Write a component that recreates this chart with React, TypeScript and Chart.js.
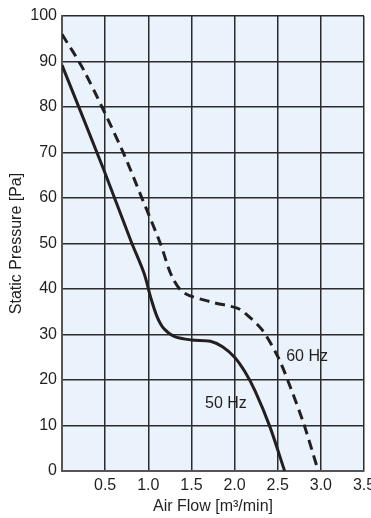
import React, { useEffect, useRef } from "react";
import { Chart, registerables } from "chart.js";

Chart.register(...registerables);

// Data
const hz50X = [0, 0.484, 0.8, 0.95, 1.03, 1.1, 1.18, 1.3, 1.5, 1.72, 1.86, 2.0, 2.12, 2.24, 2.41, 2.58];
const hz50Y = [89.2, 66.2, 50.5, 43.5, 38, 34, 31.3, 29.6, 28.8, 28.5, 27.3, 25, 21.8, 17.5, 9.7, 0];

const hz60X = [0, 0.252, 0.697, 0.928, 1.14, 1.275, 1.41, 1.72, 2.03, 2.12, 2.32, 2.51, 2.645, 2.8, 2.97];
const hz60Y = [96, 88.1, 70.5, 59.9, 50, 42.7, 39.2, 37.2, 35.8, 34.7, 31, 24.8, 18.5, 10.5, 0];

const seriesLabels = ["50 Hz", "60 Hz"];
const xTitle = "Air Flow [m³/min]";
const yTitle = "Static Pressure [Pa]";

const FONT = "'Liberation Sans', Arial, sans-serif";
const INK = "#231f20";
const GRID = "#2b2b2b";

const zeroPad = (scale: any) => {
  scale.paddingLeft = 0;
  scale.paddingRight = 0;
  scale.paddingTop = 0;
  scale.paddingBottom = 0;
};

export default function App() {
  const ref = useRef<HTMLCanvasElement | null>(null);

  useEffect(() => {
    document.body.style.margin = "0";
    const canvas = ref.current;
    if (!canvas) return;

    const bgPlugin = {
      id: "plotBg",
      beforeDraw(chart: any) {
        const { ctx, chartArea } = chart;
        ctx.save();
        ctx.fillStyle = "#eaf3fb";
        ctx.fillRect(chartArea.left, chartArea.top, chartArea.right - chartArea.left, chartArea.bottom - chartArea.top);
        ctx.restore();
      },
    };

    const labelPlugin = {
      id: "seriesLabels",
      afterDatasetsDraw(chart: any) {
        const { ctx, scales } = chart;
        const items = [
          { text: seriesLabels[1], x: 2.84, y: 25.1 },
          { text: seriesLabels[0], x: 1.9, y: 14.9 },
        ];
        ctx.save();
        ctx.fillStyle = INK;
        ctx.font = `16px ${FONT}`;
        ctx.textAlign = "center";
        ctx.textBaseline = "middle";
        items.forEach((it) => {
          ctx.fillText(it.text, scales.x.getPixelForValue(it.x), scales.y.getPixelForValue(it.y));
        });
        ctx.restore();
      },
    };

    const chart = new Chart(canvas, {
      type: "line",
      data: {
        datasets: [
          {
            label: seriesLabels[0],
            data: hz50X.map((x, i) => ({ x, y: hz50Y[i] })),
            borderColor: INK,
            borderWidth: 3,
            pointRadius: 0,
            tension: 0.3,
            fill: false,
          },
          {
            label: seriesLabels[1],
            data: hz60X.map((x, i) => ({ x, y: hz60Y[i] })),
            borderColor: INK,
            borderWidth: 3,
            borderDash: [10, 6],
            pointRadius: 0,
            tension: 0.3,
            fill: false,
          },
        ],
      },
      options: {
        animation: false,
        responsive: false,
        maintainAspectRatio: false,
        layout: { padding: { left: 0, top: 16, right: 7, bottom: 0 } },
        plugins: {
          legend: { display: false },
          tooltip: { enabled: false },
        },
        scales: {
          x: {
            type: "linear",
            min: 0,
            max: 3.5,
            ticks: {
              stepSize: 0.5,
              padding: 5,
              color: INK,
              font: { family: FONT, size: 16 },
              maxRotation: 0,
              callback: (v: any) => (Number(v) === 0 ? "" : Number(v).toFixed(1)),
            },
            grid: { color: GRID, lineWidth: 1.5, drawTicks: false },
            border: { color: "#555", width: 2 },
            title: {
              display: true,
              text: xTitle,
              color: INK,
              font: { family: FONT, size: 16 },
              padding: { top: 0, bottom: 2 },
            },
            afterFit: (scale: any) => {
              scale.height = 47;
              zeroPad(scale);
            },
          },
          y: {
            type: "linear",
            min: 0,
            max: 100,
            ticks: {
              stepSize: 10,
              padding: 5,
              color: INK,
              font: { family: FONT, size: 16 },
            },
            grid: { color: GRID, lineWidth: 1.5, drawTicks: false },
            border: { color: "#555", width: 2 },
            title: {
              display: true,
              text: yTitle,
              color: INK,
              font: { family: FONT, size: 16 },
              padding: { top: 7, bottom: 0 },
            },
            afterFit: (scale: any) => {
              scale.width = 62;
              zeroPad(scale);
            },
          },
        },
      },
      plugins: [bgPlugin, labelPlugin],
    } as any);

    return () => chart.destroy();
  }, []);

  return (
    <div style={{ width: 371, height: 518 }}>
      <canvas ref={ref} width={371} height={518} style={{ display: "block" }} />
    </div>
  );
}
